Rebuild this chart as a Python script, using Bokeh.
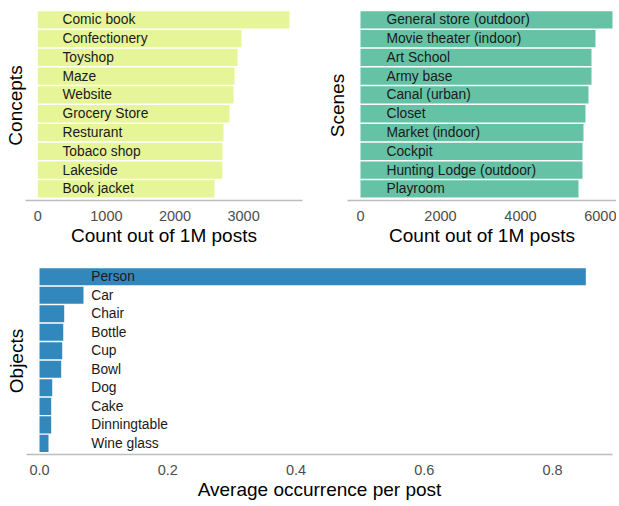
from bokeh.plotting import figure
from bokeh.layouts import column, row
from bokeh.models import Range1d, ColumnDataSource, FixedTicker, NumeralTickFormatter, BasicTickFormatter
from bokeh.core.properties import value
from bokeh.embed import file_html
from bokeh.resources import INLINE

concepts = ["Comic book", "Confectionery", "Toyshop", "Maze", "Website",
            "Grocery Store", "Resturant", "Tobaco shop", "Lakeside", "Book jacket"]
concept_counts = [3669, 2969, 2911, 2867, 2853, 2794, 2707, 2692, 2690, 2576]

scenes = ["General store (outdoor)", "Movie theater (indoor)", "Art School", "Army base",
          "Canal (urban)", "Closet", "Market (indoor)", "Cockpit",
          "Hunting Lodge (outdoor)", "Playroom"]
scene_counts = [6300, 5875, 5775, 5775, 5700, 5625, 5575, 5550, 5550, 5450]

objects = ["Person", "Car", "Chair", "Bottle", "Cup", "Bowl", "Dog", "Cake",
           "Dinningtable", "Wine glass"]
object_avgs = [0.852, 0.0686, 0.0385, 0.037, 0.0354, 0.0338, 0.0198, 0.0182, 0.0182, 0.014]

concept_ticks = [0, 1000, 2000, 3000]
scene_ticks = [0, 2000, 4000, 6000]
object_ticks = [0.0, 0.2, 0.4, 0.6, 0.8]

FONT = "Liberation Sans"


def panel(names, vals, color, ylabel, xlabel, ticks, fmt, width, height, xr,
          mb_left, mb_right, mb_top, mb_bottom, label_frac, pad_bottom):
    n = len(names)
    idx = list(range(n))
    src = ColumnDataSource(dict(y=idx, v=vals, name=names,
                                lx=[label_frac * max(vals)] * n))
    p = figure(width=width, height=height, output_backend="svg", toolbar_location=None,
               x_range=Range1d(*xr), y_range=Range1d(n - 0.5 + pad_bottom, -0.5),
               min_border_left=mb_left, min_border_right=mb_right,
               min_border_top=mb_top, min_border_bottom=mb_bottom)
    p.hbar(y="y", left=0, right="v", height=0.92, color=color, line_color=None, source=src)
    p.text(x="lx", y="y", text="name", source=src, text_baseline="middle", text_align="left",
           text_font=value(FONT), text_font_size="13.8px", text_color="#1a1a1a")
    p.outline_line_color = None
    p.xgrid.visible = False
    p.ygrid.visible = False
    p.background_fill_color = "white"
    p.border_fill_color = "white"

    ya = p.yaxis[0]
    ya.ticker = FixedTicker(ticks=[])
    ya.axis_line_color = None
    ya.major_tick_line_color = None
    ya.minor_tick_line_color = None
    ya.major_label_text_font_size = "0px"
    ya.axis_label = ylabel
    ya.axis_label_text_font = FONT
    ya.axis_label_text_font_size = "19px"
    ya.axis_label_text_font_style = "normal"
    ya.axis_label_text_color = "black"
    ya.axis_label_standoff = 0

    xa = p.xaxis[0]
    xa.ticker = FixedTicker(ticks=ticks)
    xa.formatter = fmt
    xa.axis_line_color = "#bdbdbd"
    xa.axis_line_width = 1.5
    xa.major_tick_line_color = None
    xa.minor_tick_line_color = None
    xa.major_label_text_font = FONT
    xa.major_label_text_font_size = "14.5px"
    xa.major_label_text_color = "#4d4d4d"
    xa.major_label_standoff = 4
    xa.axis_label = xlabel
    xa.axis_label_text_font = FONT
    xa.axis_label_text_font_size = "19px"
    xa.axis_label_text_font_style = "normal"
    xa.axis_label_text_color = "black"
    xa.axis_label_standoff = 1
    return p


p1 = panel(concepts, concept_counts, "#e6f598", "Concepts", "Count out of 1M posts",
           concept_ticks, BasicTickFormatter(use_scientific=False), 315, 250, (-179, 3858),
           25, 13, 10, 50, 0.098, 0.12)
p2 = panel(scenes, scene_counts, "#66c2a5", "Scenes", "Count out of 1M posts",
           scene_ticks, BasicTickFormatter(use_scientific=False), 301, 250, (-325, 6400),
           32, 0, 10, 50, 0.103, 0.12)
p3 = panel(objects, object_avgs, "#3288bd", "Objects", "Average occurrence per post",
           object_ticks, NumeralTickFormatter(format="0.0"), 616, 254, (-0.0203, 0.8936),
           26, 4, 17, 50, 0.0946, 0.1)

layout = column(row(p1, p2), p3)
open("out.html", "w").write(file_html(layout, INLINE))
